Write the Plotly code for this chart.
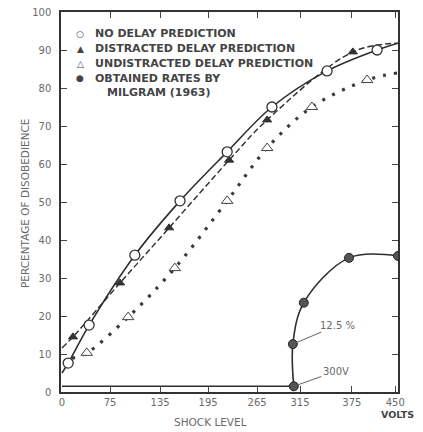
import plotly.graph_objects as go

# x positions are in "shock-scale" units: tick k of the printed axis sits at position ~k
TICK_POS = [0, 1.01, 2.06, 3.07, 4.1, 5.0, 6.09, 7.0]
TICK_LABELS = ["0", "75", "135", "195", "265", "315", "375", "450"]

# No delay prediction (open circles, solid curve)
NODELAY_X = [0.13, 0.57, 1.53, 2.48, 3.47, 4.41, 5.57, 6.62]
NODELAY_Y = [7.6, 17.6, 36.0, 50.3, 63.2, 75.0, 84.5, 90.0]
NODELAY_CURVE_X = [0.0] + NODELAY_X + [7.06]
NODELAY_CURVE_Y = [5.0] + NODELAY_Y + [91.8]

# Distracted delay prediction (filled triangles, dashed curve)
DIST_X = [0.23, 1.22, 2.25, 3.51, 4.31, 6.11]
DIST_Y = [14.5, 28.7, 43.2, 61.0, 71.6, 89.5]
DIST_CURVE_X = [0.0] + DIST_X + [7.06]
DIST_CURVE_Y = [11.6] + DIST_Y + [91.8]

# Undistracted delay prediction (open triangles, dotted curve)
UNDIST_X = [0.52, 1.39, 2.37, 3.47, 4.31, 5.25, 6.41]
UNDIST_Y = [10.3, 19.7, 32.6, 50.3, 64.2, 75.0, 82.1]
UNDIST_CURVE_X = [0.21] + UNDIST_X + [7.06]
UNDIST_CURVE_Y = [8.9] + UNDIST_Y + [84.0]

# Obtained rates by Milgram (1963)
MILGRAM_FLAT_X = [0.0, 4.87]
MILGRAM_FLAT_Y = [1.5, 1.5]
MILGRAM_X = [4.87, 4.85, 5.08, 6.03, 7.06]
MILGRAM_Y = [1.5, 12.6, 23.5, 35.3, 35.8]

LINE = "#2e2e2e"
TXT = "#6a6a6a"

fig = go.Figure()

# curves
fig.add_trace(go.Scatter(x=NODELAY_CURVE_X, y=NODELAY_CURVE_Y, mode="lines",
                         line=dict(color=LINE, width=1.6, shape="spline"), showlegend=False))
fig.add_trace(go.Scatter(x=DIST_CURVE_X, y=DIST_CURVE_Y, mode="lines",
                         line=dict(color=LINE, width=1.4, shape="spline", dash="6px,3px"), showlegend=False))
fig.add_trace(go.Scatter(x=UNDIST_CURVE_X, y=UNDIST_CURVE_Y, mode="lines",
                         line=dict(color="#3a3a3a", width=3.2, shape="spline", dash="3px,8px"), showlegend=False))
fig.add_trace(go.Scatter(x=MILGRAM_FLAT_X, y=MILGRAM_FLAT_Y, mode="lines",
                         line=dict(color=LINE, width=1.5), showlegend=False))
fig.add_trace(go.Scatter(x=MILGRAM_X, y=MILGRAM_Y, mode="lines",
                         line=dict(color=LINE, width=1.6, shape="spline"), showlegend=False))

# markers
fig.add_trace(go.Scatter(x=UNDIST_X, y=UNDIST_Y, mode="markers", name="UNDISTRACTED DELAY PREDICTION",
                         marker=dict(symbol="triangle-up", size=10, color="white",
                                     line=dict(color="#444", width=1)), showlegend=False))
fig.add_trace(go.Scatter(x=DIST_X, y=DIST_Y, mode="markers", name="DISTRACTED DELAY PREDICTION",
                         marker=dict(symbol="triangle-up", size=8, color="#333",
                                     line=dict(color="#333", width=1)), showlegend=False))
fig.add_trace(go.Scatter(x=NODELAY_X, y=NODELAY_Y, mode="markers", name="NO DELAY PREDICTION",
                         marker=dict(symbol="circle", size=10, color="white",
                                     line=dict(color="#333", width=1.3)), showlegend=False))
fig.add_trace(go.Scatter(x=MILGRAM_X, y=MILGRAM_Y, mode="markers", name="OBTAINED RATES BY MILGRAM (1963)",
                         marker=dict(symbol="circle", size=9, color="#555",
                                     line=dict(color="#222", width=1)), showlegend=False))

# page body has an 8px margin: compensate so the plot box lands where the reference has it
OFF = 8
W, H = 423 - OFF, 432 - OFF
L, R, T, B = 61 - OFF, 25, 12 - OFF, 40
PW, PH = W - L - R, H - T - B

def px(x):
    return (x - OFF - L) / PW

def py(y):
    return (H - B - (y - OFF)) / PH

annotations = []
legend_rows = [
    ("○", "NO DELAY PREDICTION", 34, 93),
    ("▲", "DISTRACTED DELAY PREDICTION", 49, 93),
    ("△", "UNDISTRACTED DELAY PREDICTION", 63.5, 93),
    ("●", "OBTAINED RATES BY", 78, 93),
    ("", "MILGRAM (1963)", 92, 105),
]
for sym, text, yy, xx in legend_rows:
    if sym:
        annotations.append(dict(x=px(80), y=py(yy), xref="paper", yref="paper", text=sym,
                                showarrow=False, xanchor="center", yanchor="middle",
                                font=dict(family="DejaVu Sans", size=9, color="#444")))
    annotations.append(dict(x=px(xx), y=py(yy), xref="paper", yref="paper", text="<b>" + text + "</b>",
                            showarrow=False, xanchor="left", yanchor="middle",
                            font=dict(family="DejaVu Sans", size=11, color="#444")))

annotations += [
    dict(x=px(25), y=py(203), xref="paper", yref="paper", text="PERCENTAGE OF DISOBEDIENCE",
         textangle=-90, showarrow=False, xanchor="center", yanchor="middle",
         font=dict(family="DejaVu Sans", size=10.5, color=TXT)),
    dict(x=px(210), y=py(422), xref="paper", yref="paper", text="SHOCK LEVEL",
         showarrow=False, xanchor="center", yanchor="middle",
         font=dict(family="DejaVu Sans", size=10.5, color=TXT)),
    dict(x=px(397), y=py(414), xref="paper", yref="paper", text="<b>VOLTS</b>",
         showarrow=False, xanchor="center", yanchor="middle",
         font=dict(family="DejaVu Sans", size=9.5, color="#444")),
    dict(x=MILGRAM_X[1], y=MILGRAM_Y[1], text="12.5 %", showarrow=True, arrowhead=0,
         arrowwidth=1, arrowcolor="#666", ax=45, ay=-19, standoff=4,
         font=dict(family="DejaVu Sans", size=10, color=TXT)),
    dict(x=MILGRAM_X[0], y=MILGRAM_Y[0], text="300V", showarrow=True, arrowhead=0,
         arrowwidth=1, arrowcolor="#666", ax=42, ay=-15, standoff=4,
         font=dict(family="DejaVu Sans", size=10, color=TXT)),
]

axis_common = dict(showline=True, linecolor="#333", linewidth=1.5, mirror="ticks",
                   ticks="inside", ticklen=6, tickcolor="#444", tickwidth=1,
                   showgrid=False, zeroline=False, automargin=False,
                   ticklabeloverflow="allow",
                   tickfont=dict(family="DejaVu Sans", size=10, color=TXT))

fig.update_layout(
    width=W, height=H,
    margin=dict(l=L, r=R, t=T, b=B, autoexpand=False),
    plot_bgcolor="white", paper_bgcolor="white",
    showlegend=False,
    xaxis=dict(range=[(61 - 62) / 47.6, (398 - 62) / 47.6], tickmode="array",
               tickvals=TICK_POS, ticktext=TICK_LABELS, ticklabelstandoff=0, **axis_common),
    yaxis=dict(range=[0, 100], tickmode="array", tickvals=list(range(0, 101, 10)),
               ticklabelstandoff=6, **axis_common),
    annotations=annotations,
)

fig.write_html("out.html")
